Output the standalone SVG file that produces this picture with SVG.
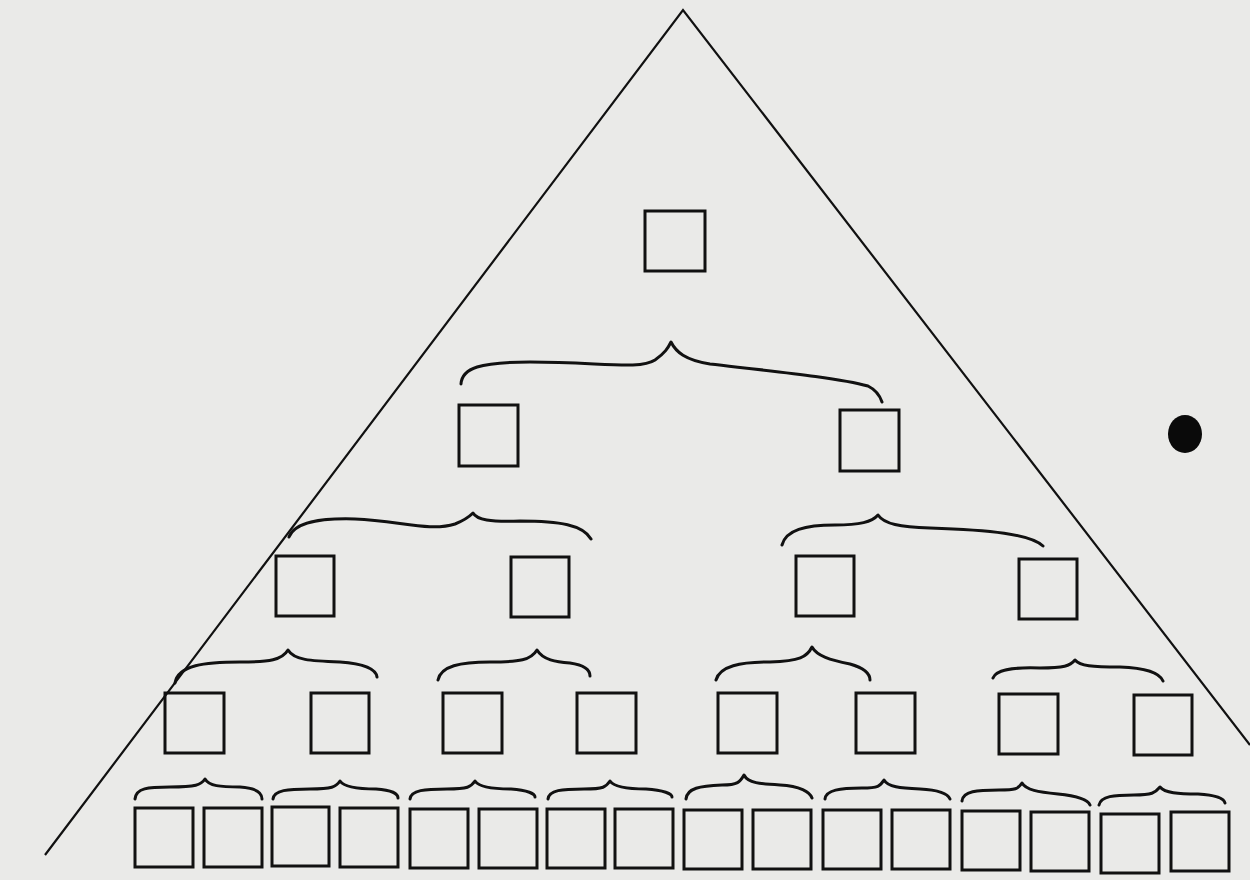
<svg xmlns="http://www.w3.org/2000/svg" width="1250" height="880" viewBox="0 0 1250 880">
<defs>
<style>
.bg{fill:#eaeae8}
.tri{fill:none;stroke:#111;stroke-width:2.2}
.box{fill:none;stroke:#111;stroke-width:3}
.br{fill:none;stroke:#111;stroke-width:3;stroke-linecap:round;stroke-linejoin:round}
</style>
</defs>
<rect class="bg" x="0" y="0" width="1250" height="880"/>
<g id="triangle"><polyline class="tri" points="45,855 683,10 1250,745"/></g>
<g id="connectors">
<path class="br" d="M461,384 C462,368 480,362 530,362 C600,362 640,370 655,360 C665,353 668,348 671,342 C676,352 685,360 710,364 C780,372 840,378 868,386 C876,390 880,396 882,402"/>
<path class="br" d="M289,537 C295,522 320,518 355,519 C400,521 430,532 455,524 C465,520 470,516 473,513 C477,520 490,522 520,521 C560,521 583,525 591,539"/>
<path class="br" d="M782,545 C786,530 805,525 835,525 C860,525 872,522 878,515 C884,524 900,527 930,528 C990,530 1030,534 1043,546"/>
<path class="br" d="M175,683 C178,665 205,662 240,662 C270,662 282,660 288,650 C294,660 310,661 340,662 C368,664 376,670 377,677"/>
<path class="br" d="M438,680 C441,666 460,662 490,662 C520,662 531,660 537,650 C543,660 556,662 570,663 C584,665 590,670 590,676"/>
<path class="br" d="M716,680 C720,666 740,662 770,662 C800,661 807,657 812,647 C817,656 830,660 850,664 C864,668 870,674 870,680"/>
<path class="br" d="M993,678 C996,670 1010,667 1040,668 C1064,668 1070,666 1075,660 C1080,666 1092,667 1120,667 C1150,668 1160,674 1163,681"/>
<path class="br" d="M135,799 C136,788 148,787 170,787 C196,787 201,785 205,779 C209,786 220,787 240,787 C256,788 262,792 262,799"/>
<path class="br" d="M273,799 C274,790 288,789 310,789 C332,789 336,787 340,781 C344,787 356,789 376,789 C392,790 398,794 398,798"/>
<path class="br" d="M410,799 C411,790 425,789 447,789 C468,789 471,787 475,781 C479,787 491,789 511,789 C528,790 535,794 535,797"/>
<path class="br" d="M548,799 C549,790 562,789 584,789 C604,789 606,787 610,781 C614,787 626,789 646,789 C664,790 672,794 672,797"/>
<path class="br" d="M686,799 C687,788 700,786 722,785 C738,785 740,782 744,775 C748,783 760,784 780,785 C800,786 810,792 812,798"/>
<path class="br" d="M825,799 C826,790 840,788 862,788 C879,788 880,786 884,780 C888,787 900,788 920,789 C940,790 948,794 950,799"/>
<path class="br" d="M962,801 C963,791 977,790 999,790 C1016,790 1018,789 1022,783 C1026,790 1038,792 1058,794 C1078,796 1088,800 1090,805"/>
<path class="br" d="M1099,805 C1101,796 1114,795 1134,795 C1152,795 1155,793 1160,787 C1165,793 1178,794 1198,794 C1216,795 1224,798 1225,803"/>
</g>
<g id="n1"><rect class="box" x="645" y="211" width="60" height="60"/></g>
<g id="n2a"><rect class="box" x="459" y="405" width="59" height="61"/></g>
<g id="n2b"><rect class="box" x="840" y="410" width="59" height="61"/></g>
<g id="n3a"><rect class="box" x="276" y="556" width="58" height="60"/></g>
<g id="n3b"><rect class="box" x="511" y="557" width="58" height="60"/></g>
<g id="n3c"><rect class="box" x="796" y="556" width="58" height="60"/></g>
<g id="n3d"><rect class="box" x="1019" y="559" width="58" height="60"/></g>
<g id="n4a"><rect class="box" x="165" y="693" width="59" height="60"/></g>
<g id="n4b"><rect class="box" x="311" y="693" width="58" height="60"/></g>
<g id="n4c"><rect class="box" x="443" y="693" width="59" height="60"/></g>
<g id="n4d"><rect class="box" x="577" y="693" width="59" height="60"/></g>
<g id="n4e"><rect class="box" x="718" y="693" width="59" height="60"/></g>
<g id="n4f"><rect class="box" x="856" y="693" width="59" height="60"/></g>
<g id="n4g"><rect class="box" x="999" y="694" width="59" height="60"/></g>
<g id="n4h"><rect class="box" x="1134" y="695" width="58" height="60"/></g>
<g id="n5a"><rect class="box" x="135" y="808" width="58" height="59"/></g>
<g id="n5b"><rect class="box" x="204" y="808" width="58" height="59"/></g>
<g id="n5c"><rect class="box" x="272" y="807" width="57" height="59"/></g>
<g id="n5d"><rect class="box" x="340" y="808" width="58" height="59"/></g>
<g id="n5e"><rect class="box" x="410" y="809" width="58" height="59"/></g>
<g id="n5f"><rect class="box" x="479" y="809" width="58" height="59"/></g>
<g id="n5g"><rect class="box" x="547" y="809" width="58" height="59"/></g>
<g id="n5h"><rect class="box" x="615" y="809" width="58" height="59"/></g>
<g id="n5i"><rect class="box" x="684" y="810" width="58" height="59"/></g>
<g id="n5j"><rect class="box" x="753" y="810" width="58" height="59"/></g>
<g id="n5k"><rect class="box" x="823" y="810" width="58" height="59"/></g>
<g id="n5l"><rect class="box" x="892" y="810" width="58" height="59"/></g>
<g id="n5m"><rect class="box" x="962" y="811" width="58" height="59"/></g>
<g id="n5n"><rect class="box" x="1031" y="812" width="58" height="59"/></g>
<g id="n5o"><rect class="box" x="1101" y="814" width="58" height="59"/></g>
<g id="n5p"><rect class="box" x="1171" y="812" width="58" height="59"/></g>
<g id="dot"><ellipse cx="1185" cy="434" rx="17" ry="19" fill="#0a0a0a"/></g>
</svg>
